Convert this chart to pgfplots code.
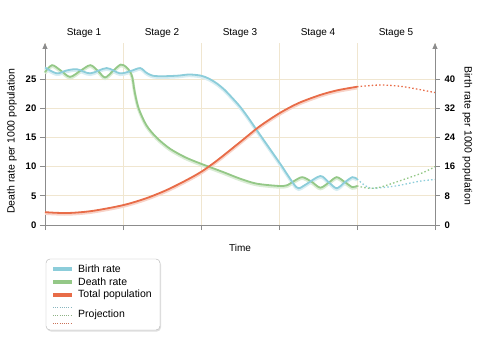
\documentclass[border=0pt]{standalone}
\usepackage{pgfplots}
\pgfplotsset{compat=1.18}
\usepackage{pgfplotstable}
\usepackage{fontspec}
\setmainfont{Liberation Sans}
\usetikzlibrary{arrows.meta,shadows}
\definecolor{brate}{RGB}{140,205,218}
\definecolor{drate}{RGB}{148,200,135}
\definecolor{tpop}{RGB}{232,108,72}
\definecolor{gridc}{RGB}{240,230,208}
\definecolor{axisgray}{RGB}{140,140,140}

\pgfplotstableread{
x y
0 26.2
0.09 27.4
0.2 26.5
0.32 25.4
0.45 26.4
0.58 27.4
0.68 26.4
0.77 25.3
0.87 26.4
0.97 27.5
1.04 27.1
1.09 26.3
1.12 25.3
1.15 22.8
1.2 20.0
1.3 17.1
1.43 15.0
1.6 13.1
1.8 11.6
2.0 10.5
2.1 10.0
2.28 9.1
2.5 7.95
2.71 7.1
2.99 6.7
3.1 6.8
3.2 7.6
3.3 8.2
3.42 7.4
3.53 6.4
3.64 7.3
3.74 8.2
3.84 7.4
3.94 6.5
4.0 6.7
}\death

\pgfplotstableread{
x y
0 27.0
0.15 26.0
0.28 26.5
0.41 26.7
0.58 26.0
0.79 26.9
0.96 26.0
1.1 26.4
1.22 26.9
1.3 26.1
1.38 25.6
1.5 25.5
1.7 25.6
1.85 25.8
2.0 25.6
2.1 25.1
2.2 24.3
2.3 23.2
2.4 21.8
2.5 20.3
2.6 18.5
2.76 15.4
3.01 10.6
3.18 7.2
3.25 6.3
3.35 7.0
3.53 8.4
3.64 7.3
3.74 6.3
3.84 7.3
3.94 8.2
4.0 7.9
}\birth

\pgfplotstableread{
x y
0 2.2
0.28 2.05
0.6 2.4
1.0 3.4
1.3 4.6
1.56 6.0
1.8 7.6
2.0 9.1
2.2 11.0
2.5 14.2
2.75 16.9
3.01 19.2
3.25 20.9
3.53 22.3
3.75 23.1
4.0 23.7
}\pop

\pgfplotstableread{
x y
4.0 23.7
4.3 24.0
4.6 23.7
5.0 22.7
}\popproj

\pgfplotstableread{
x y
4.0 7.9
4.1 6.8
4.2 6.3
4.5 6.7
4.8 7.5
5.0 7.8
}\birthproj

\pgfplotstableread{
x y
4.0 6.7
4.15 6.3
4.3 6.5
4.6 7.8
4.85 9.0
5.0 10.0
}\deathproj

\begin{document}
\begin{tikzpicture}
\path[use as bounding box] (-45bp,-135bp) rectangle (435bp,225bp);
\begin{axis}[
  at={(0,0)}, anchor=south west, scale only axis,
  width=390bp, height=182bp,
  xmin=0, xmax=5, ymin=0, ymax=31.2,
  axis x line=bottom, axis y line=left,
  axis line style={draw=axisgray, line width=0.8bp},
  x axis line style={-},
  y axis line style={-{Triangle[width=5bp,length=6bp]}},
  xtick={0,1,2,3,4,5}, xticklabels={},
  ytick={0,5,10,15,20,25},
  xmajorgrids, ymajorgrids,
  grid style={draw=gridc, line width=0.8bp},
  tick style={draw=axisgray, line width=0.8bp},
  major tick length=5bp, tick align=outside,
  yticklabel style={font=\bfseries\fontsize{9.5bp}{11bp}\selectfont, inner sep=3.5bp},
  /pgf/number format/assume math mode=true,
  clip=false,
  smooth,
]
% shadows
\addplot[draw=drate!35, line width=3bp, yshift=-1.2bp] table {\death};
\addplot[draw=brate!35, line width=3bp, yshift=-1.2bp] table {\birth};
\addplot[draw=tpop!30, line width=3bp, yshift=-1.2bp] table {\pop};
% main lines
\addplot[draw=drate, line width=1.8bp] table {\death};
\addplot[draw=brate, line width=1.8bp] table {\birth};
\addplot[draw=tpop, line width=1.8bp] table {\pop};
% projections
\addplot[draw=tpop, line width=1.3bp, dash pattern=on 1.5bp off 2.2bp] table {\popproj};
\addplot[draw=brate, line width=1.3bp, dash pattern=on 1.5bp off 2.2bp] table {\birthproj};
\addplot[draw=drate, line width=1.3bp, dash pattern=on 1.5bp off 2.2bp] table {\deathproj};

\node[font=\fontsize{10bp}{12bp}\selectfont] at (axis cs:0.5,32.9) {Stage 1};
\node[font=\fontsize{10bp}{12bp}\selectfont] at (axis cs:1.5,32.9) {Stage 2};
\node[font=\fontsize{10bp}{12bp}\selectfont] at (axis cs:2.5,32.9) {Stage 3};
\node[font=\fontsize{10bp}{12bp}\selectfont] at (axis cs:3.5,32.9) {Stage 4};
\node[font=\fontsize{10bp}{12bp}\selectfont] at (axis cs:4.5,32.9) {Stage 5};
\node[font=\fontsize{10bp}{12bp}\selectfont] at (rel axis cs:0.5,-0.126) {Time};
\node[rotate=90, font=\fontsize{10.5bp}{12bp}\selectfont] at (rel axis cs:-0.085,0.46) {Death rate per 1000 population};
\node[rotate=-90, font=\fontsize{10.5bp}{12bp}\selectfont] at (rel axis cs:1.083,0.49) {Birth rate per 1000 population};
\end{axis}
\begin{axis}[
  at={(0,0)}, anchor=south west, scale only axis,
  width=390bp, height=182bp,
  xmin=0, xmax=5, ymin=0, ymax=49.92,
  axis x line=none, axis y line=right,
  axis line style={draw=axisgray, line width=0.8bp},
  y axis line style={-{Triangle[width=5bp,length=6bp]}},
  ytick={0,8,16,24,32,40},
  tick style={draw=axisgray, line width=0.8bp},
  major tick length=5bp, tick align=outside,
  yticklabel style={font=\bfseries\fontsize{9.5bp}{11bp}\selectfont, inner sep=4.5bp},
  /pgf/number format/assume math mode=true,
]
\end{axis}
% legend
\draw[draw=gray!60, rounded corners=4bp, fill=white, drop shadow={shadow xshift=1bp, shadow yshift=-1.5bp, opacity=0.25}] (1bp,-34bp) rectangle (115bp,-105bp);
\draw[brate, line width=3.5bp] (8bp,-44bp) -- (27bp,-44bp);
\draw[drate, line width=3.5bp] (8bp,-57bp) -- (27bp,-57bp);
\draw[tpop, line width=3.5bp] (8bp,-70bp) -- (27bp,-70bp);
\draw[brate!70!gray, line width=0.6bp, dash pattern=on 1bp off 1.2bp] (8bp,-82bp) -- (27bp,-82bp);
\draw[drate!70!gray, line width=0.6bp, dash pattern=on 1bp off 1.2bp] (8bp,-90bp) -- (27bp,-90bp);
\draw[tpop!70!gray, line width=0.6bp, dash pattern=on 1bp off 1.2bp] (8bp,-98bp) -- (27bp,-98bp);
\begin{scope}[every node/.style={anchor=west, font=\fontsize{10.5bp}{12bp}\selectfont, inner sep=0pt}]
\node at (33bp,-44bp) {Birth rate};
\node at (33bp,-57bp) {Death rate};
\node at (33bp,-70bp) {Total population};
\node at (33bp,-90bp) {Projection};
\end{scope}
\end{tikzpicture}
\end{document}
